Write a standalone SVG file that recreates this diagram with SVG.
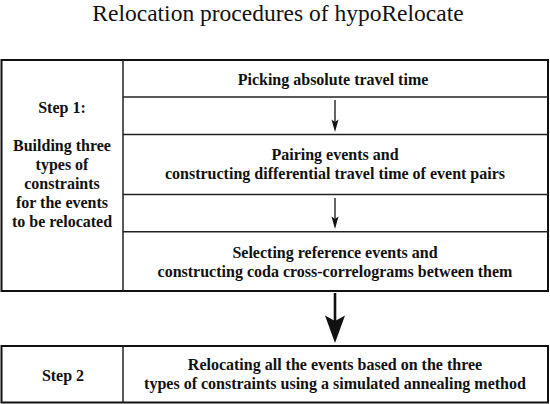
<svg xmlns="http://www.w3.org/2000/svg" width="550" height="404" viewBox="0 0 550 404">
<style>
.t{font-weight:bold;font-size:16px;fill:#111;text-anchor:middle}
.title{font-size:23.5px;fill:#111;text-anchor:middle}
.box{fill:#fff;stroke:#111;stroke-width:2}
.div{stroke:#222;stroke-width:1.5;fill:none}
.ar{stroke:#111;stroke-width:1.3;fill:none}
.head{fill:#111}
</style>
<rect width="550" height="404" fill="#fff"/>
<g font-family="Liberation Serif, Times New Roman, Times, DejaVu Serif, Noto Serif, serif">
<text class="title" x="278" y="20.5">Relocation procedures of hypoRelocate</text>
<g id="step1">
<rect class="box" x="1.5" y="60" width="546.5" height="231"/>
<line class="div" x1="123" y1="60" x2="123" y2="291"/>
<text class="t" x="62" y="113.3">Step 1:</text>
<text class="t" x="62" y="150.7">Building three</text>
<text class="t" x="62" y="169.6">types of</text>
<text class="t" x="62" y="188.5">constraints</text>
<text class="t" x="62" y="207.5">for the events</text>
<text class="t" x="62" y="226.5">to be relocated</text>
</g>
<g id="pick">
<line class="div" x1="123" y1="97" x2="548" y2="97"/>
<text class="t" x="333" y="85">Picking absolute travel time</text>
</g>
<g id="pair">
<line class="div" x1="123" y1="134.5" x2="548" y2="134.5"/>
<line class="div" x1="123" y1="194.5" x2="548" y2="194.5"/>
<text class="t" x="335" y="160">Pairing events and</text>
<text class="t" x="335" y="179">constructing differential travel time of event pairs</text>
</g>
<g id="select">
<line class="div" x1="123" y1="231.7" x2="548" y2="231.7"/>
<text class="t" x="335" y="258">Selecting reference events and</text>
<text class="t" x="335" y="276.7">constructing coda cross-correlograms between them</text>
</g>
<g id="step2">
<rect class="box" x="1.5" y="346" width="546.5" height="56.5"/>
<line class="div" x1="123" y1="346" x2="123" y2="402.5"/>
<text class="t" x="63" y="380.5">Step 2</text>
<text class="t" x="335" y="370">Relocating all the events based on the three</text>
<text class="t" x="335" y="389">types of constraints using a simulated annealing method</text>
</g>
</g>
<g id="connectors">
<line class="ar" x1="335" y1="100" x2="335" y2="122"/>
<path class="head" d="M331.5,119.5 L335,122 L338.5,119.5 L335,132 Z"/>
<line class="ar" x1="335" y1="198" x2="335" y2="219"/>
<path class="head" d="M331.5,216.5 L335,219 L338.5,216.5 L335,229 Z"/>
<line x1="335" y1="293" x2="335" y2="322" stroke="#111" stroke-width="2.6"/>
<path class="head" d="M325,315.5 L335,321 L345,315.5 L335,343 Z"/>
</g>
</svg>
